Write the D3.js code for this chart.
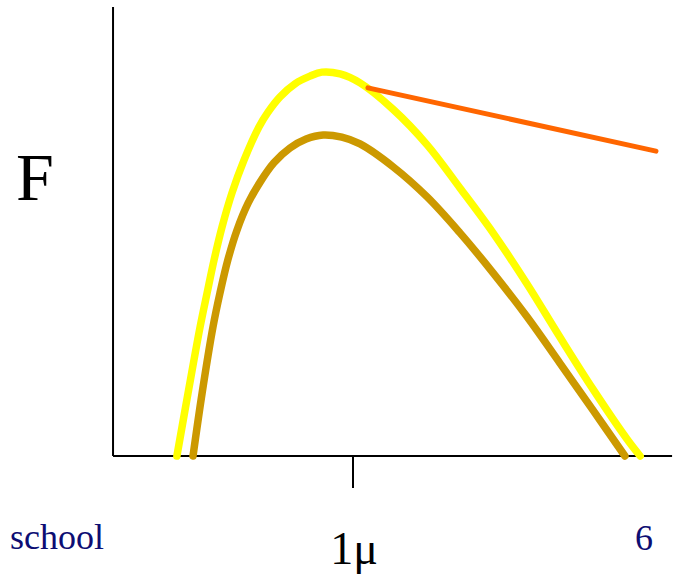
<!DOCTYPE html>
<html>
<head>
<meta charset="utf-8">
<script src="https://cdn.jsdelivr.net/npm/d3@7"></script>
<style>
  html, body { margin: 0; padding: 0; background: #fff; }
  svg { display: block; }
</style>
</head>
<body>
<script>
// Horizontal positions along the axis; labels sit at 0, 1 and 2.
const xLabels = ["school", "1\u03bc", "6"];
const xLabelValues = [0, 1, 2];

// Upper (yellow) curve
const upperX = [0.399, 0.437, 0.478, 0.502, 0.526, 0.553, 0.587, 0.628, 0.679, 0.710, 0.751, 0.802, 0.853, 0.894, 0.956, 1.024, 1.137, 1.253, 1.365, 1.478, 1.594, 1.706, 1.819, 1.935, 1.980];
const upperY = [0.000, 0.140, 0.287, 0.363, 0.437, 0.510, 0.586, 0.659, 0.733, 0.766, 0.800, 0.829, 0.846, 0.855, 0.851, 0.831, 0.772, 0.693, 0.597, 0.497, 0.383, 0.265, 0.149, 0.038, 0.000];

// Lower (gold) curve
const lowerX = [0.454, 0.485, 0.522, 0.546, 0.573, 0.604, 0.642, 0.683, 0.730, 0.785, 0.840, 0.898, 0.962, 1.024, 1.137, 1.253, 1.365, 1.478, 1.594, 1.706, 1.819, 1.928];
const lowerY = [0.000, 0.140, 0.287, 0.363, 0.437, 0.503, 0.563, 0.610, 0.653, 0.686, 0.706, 0.715, 0.710, 0.695, 0.644, 0.577, 0.497, 0.408, 0.310, 0.207, 0.102, 0.000];

// Straight (orange) segment
const segX = [1.051, 2.034];
const segY = [0.820, 0.679];

// Extent of the drawn axes in data units
const axisXStart = 0.181, axisXEnd = 2.089;
const axisYTop = 1.0;

const W = 673, H = 576;
const svg = d3.select("body").append("svg").attr("width", W).attr("height", H);

const x = d3.scaleLinear().domain([0, 2]).range([60, 646]);
const y = d3.scaleLinear().domain([0, 1]).range([456, 7]);

const serif = "'Liberation Serif', 'Times New Roman', serif";

// Axes
svg.append("line")
  .attr("x1", x(axisXStart)).attr("x2", x(axisXStart))
  .attr("y1", y(0)).attr("y2", y(axisYTop))
  .attr("stroke", "#000").attr("stroke-width", 2);
svg.append("line")
  .attr("x1", x(axisXStart)).attr("x2", x(axisXEnd))
  .attr("y1", y(0)).attr("y2", y(0))
  .attr("stroke", "#000").attr("stroke-width", 2);

// Single tick at the middle label
svg.append("line")
  .attr("x1", x(1)).attr("x2", x(1))
  .attr("y1", y(0)).attr("y2", y(0) + 32)
  .attr("stroke", "#000").attr("stroke-width", 2);

const line = d3.line()
  .x(d => x(d[0]))
  .y(d => y(d[1]))
  .curve(d3.curveCatmullRom.alpha(0.5));

const series = [
  { xs: upperX, ys: upperY, color: "#FFFF00", width: 7.5 },
  { xs: lowerX, ys: lowerY, color: "#CC9900", width: 7.5 },
  { xs: segX,   ys: segY,   color: "#FF6600", width: 5 }
];

series.forEach(s => {
  svg.append("path")
    .datum(s.xs.map((v, i) => [v, s.ys[i]]))
    .attr("d", line)
    .attr("fill", "none")
    .attr("stroke", s.color)
    .attr("stroke-width", s.width)
    .attr("stroke-linecap", "round")
    .attr("stroke-linejoin", "round");
});

// Y axis title
svg.append("text")
  .attr("x", 16).attr("y", 200)
  .attr("font-family", serif).attr("font-size", 68)
  .attr("fill", "#000")
  .text("F");

// X labels
const labelStyle = [
  { anchor: "start",  dx: -50, baseline: 549, size: 36, color: "#0d0d73" },
  { anchor: "middle", dx: 1,   baseline: 564, size: 46, color: "#000" },
  { anchor: "middle", dx: -2,  baseline: 550, size: 36, color: "#0d0d73" }
];
xLabels.forEach((t, i) => {
  const st = labelStyle[i];
  svg.append("text")
    .attr("x", x(xLabelValues[i]) + st.dx)
    .attr("y", st.baseline)
    .attr("text-anchor", st.anchor)
    .attr("font-family", serif)
    .attr("font-size", st.size)
    .attr("fill", st.color)
    .text(t);
});
</script>
</body>
</html>
